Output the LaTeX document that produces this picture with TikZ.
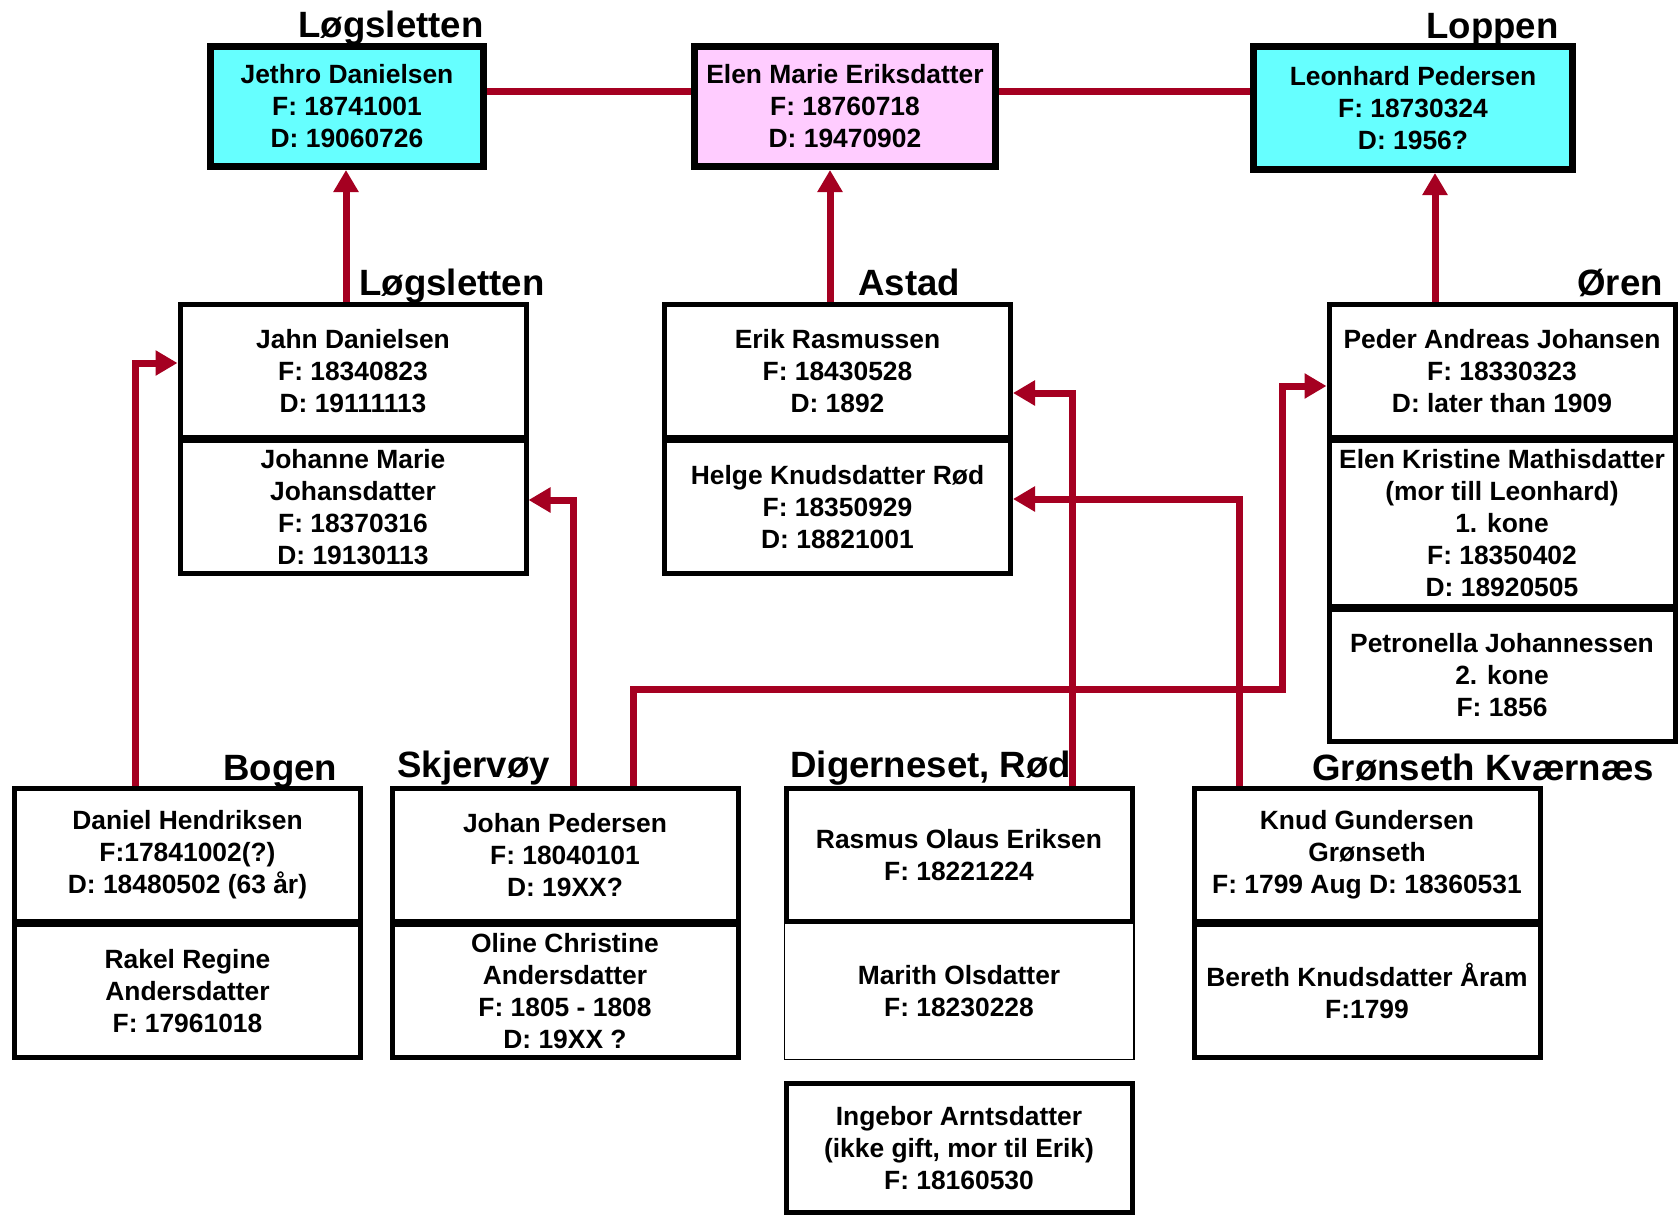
\documentclass[tikz,border=0pt]{standalone}
\usepackage{fontspec}
\setmainfont{Liberation Sans}
\usetikzlibrary{positioning,arrows.meta}
\definecolor{slekt}{RGB}{165,0,33}
\definecolor{blaa}{RGB}{102,255,255}
\definecolor{rosa}{RGB}{255,204,255}
\begin{document}
\begin{tikzpicture}[x=0.5pt,y=-0.5pt,
every node/.style={font=\bfseries\fontsize{13.2}{16}\selectfont, align=center, inner sep=0pt},
person/.style={draw, line width=2.5pt, minimum width=173pt, minimum height=66.5pt},
topp/.style={draw, line width=3.5pt, minimum height=60pt},
farm/.style={font=\bfseries\fontsize{18.3}{20}\selectfont, anchor=base west},
arr/.style={draw=slekt, line width=3.5pt, -{Triangle[width=12pt,length=11pt]}},
link/.style={draw=slekt, line width=3.5pt},
]
\path[use as bounding box, fill=white] (0,0) rectangle (1678,1216);
% gaardsnavn
\node[farm] (g1) at (298,37) {Løgsletten};
\node[farm] (g2) at (1426,38) {Loppen};
\node[farm] (g3) at (359,295) {Løgsletten};
\node[farm] (g4) at (858,295) {Astad};
\node[farm] (g5) at (1577,295) {Øren};
\node[farm] (g6) at (223,780) {Bogen};
\node[farm] (g7) at (397,777) {Skjervøy};
\node[farm] (g8) at (790,777) {Digerneset, Rød};
\node[farm] (g9) at (1312,780) {Grønseth Kværnæs};
% rad 1
\node[topp, fill=blaa, minimum width=136.5pt] (jethro) at (347,106.5) {Jethro Danielsen\\F: 18741001\\D: 19060726};
\node[topp, fill=rosa, minimum width=150.5pt] (elenmarie) at (845,106.5) {Elen Marie Eriksdatter\\F: 18760718\\D: 19470902};
\node[topp, fill=blaa, minimum width=159.5pt, minimum height=61.5pt] (leonhard) at (1413,108) {Leonhard Pedersen\\F: 18730324\\D: 1956?};
% rad 2
\node[person] (jahn) at (353,371) {Jahn Danielsen\\F: 18340823\\D: 19111113};
\node[person, below=-1pt of jahn] (johanne) {Johanne Marie\\Johansdatter\\F: 18370316\\D: 19130113};
\node[person] (erik) at (837.5,371) {Erik Rasmussen\\F: 18430528\\D: 1892};
\node[person, below=-1pt of erik] (helge) {Helge Knudsdatter Rød\\F: 18350929\\D: 18821001};
\node[person] (peder) at (1502,371) {Peder Andreas Johansen\\F: 18330323\\D: later than 1909};
\node[person, minimum height=83pt, below=-1pt of peder] (elenkristine) {Elen Kristine Mathisdatter\\(mor till Leonhard)\\1. kone\\F: 18350402\\D: 18920505};
\node[person, minimum height=66pt, below=-1pt of elenkristine] (petronella) {Petronella Johannessen\\2. kone\\F: 1856};
% rad 3
\node[person] (daniel) at (187.5,855) {Daniel Hendriksen\\F:17841002(?)\\D: 18480502 (63 år)};
\node[person, below=-1pt of daniel] (rakel) {Rakel Regine\\Andersdatter\\F: 17961018};
\node[person] (johan) at (565,855) {Johan Pedersen\\F: 18040101\\D: 19XX?};
\node[person, below=-1pt of johan] (oline) {Oline Christine\\Andersdatter\\F: 1805 - 1808\\D: 19XX ?};
\node[person] (rasmus) at (959,855) {Rasmus Olaus Eriksen\\F: 18221224};
\node[person, line width=0.75pt, minimum width=174.75pt, minimum height=68.25pt, below=-1pt of rasmus] (marith) {Marith Olsdatter\\F: 18230228};
\node[person, minimum height=64.5pt, below=10.5pt of marith] (ingebor) {Ingebor Arntsdatter\\(ikke gift, mor til Erik)\\F: 18160530};
\node[person] (knud) at (1367,855) {Knud Gundersen\\Grønseth\\F: 1799 Aug D: 18360531};
\node[person, below=-1pt of knud] (bereth) {Bereth Knudsdatter Åram\\F:1799};
% forbindelser
\draw[link] ([yshift=7.75pt]jethro.east) -- ([yshift=7.75pt]elenmarie.west);
\draw[link] ([yshift=7.75pt]elenmarie.east) -- ([yshift=8.5pt]leonhard.west);
\draw[arr] ([xshift=-3.5pt]jahn.north) -- ([xshift=-0.5pt]jethro.south);
\draw[arr] ([xshift=-3.75pt]erik.north) -- ([xshift=-7.5pt]elenmarie.south);
\draw[arr] ([xshift=-33.5pt]peder.north) -- ([xshift=11pt]leonhard.south);
\draw[arr] ([xshift=-26.25pt]daniel.north) |- ([yshift=4pt]jahn.west);
\draw[arr] ([xshift=4pt]johan.north) |- ([yshift=3.5pt]johanne.east);
\draw[arr] ([xshift=34pt]johan.north) -- ++(0,-97) -| ([xshift=-22pt,yshift=-7.5pt]peder.west) -- ([yshift=-7.5pt]peder.west);
\draw[arr] ([xshift=56.5pt]rasmus.north) |- ([yshift=-11pt]erik.east);
\draw[arr] ([xshift=-64pt]knud.north) |- ([yshift=4pt]helge.east);
\end{tikzpicture}
\end{document}
